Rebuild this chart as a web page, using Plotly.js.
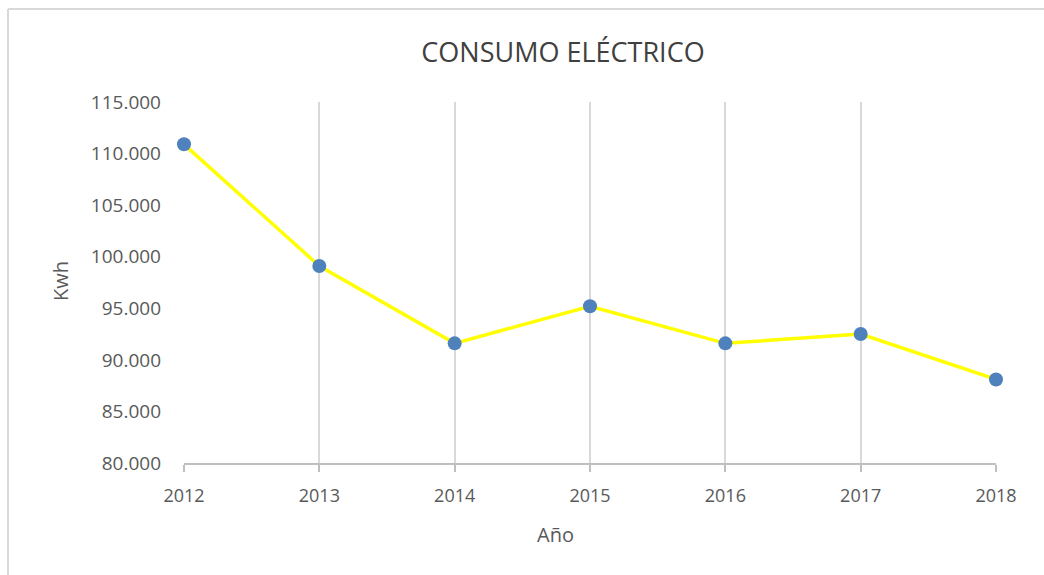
<!DOCTYPE html>
<html>
<head>
<meta charset="utf-8">
<script src="https://cdn.plot.ly/plotly-3.0.1.min.js"></script>
<style>
html,body{margin:0;padding:0;background:#fff;}
#chart{width:1044px;height:575px;}
</style>
</head>
<body>
<div id="chart"></div>
<script>
const years = ['2012','2013','2014','2015','2016','2017','2018'];
const consumo = [110900, 99100, 91600, 95200, 91600, 92500, 88100];
const chartTitle = 'CONSUMO ELÉCTRICO';
const xTitle = 'Año';
const yTitle = 'Kwh';

const W = 1044, H = 575;
const m = {l: 184, r: 48, t: 102, b: 112};
const pw = W - m.l - m.r, ph = H - m.t - m.b;
const px = x => (x - m.l) / pw;
const py = y => (H - m.b - y) / ph;
const textColor = '#595959';
const font = 'Open Sans, Noto Sans, sans-serif';

const trace = {
  x: years.map((_, i) => i),
  y: consumo,
  type: 'scatter',
  mode: 'lines+markers',
  cliponaxis: false,
  line: {color: '#ffff00', width: 3.5},
  marker: {color: '#4f81bd', size: 14},
  hoverinfo: 'x+y'
};

const layout = {
  width: W, height: H,
  margin: m,
  paper_bgcolor: '#ffffff',
  plot_bgcolor: '#ffffff',
  separators: ',.',
  showlegend: false,
  font: {family: font, color: textColor, size: 18},
  title: {
    text: chartTitle,
    font: {family: font, size: 27, color: '#404040'},
    x: 563 / W, xanchor: 'center',
    y: 1 - 53 / H, yanchor: 'middle'
  },
  xaxis: {
    type: 'linear',
    range: [0, years.length - 1],
    tickmode: 'array',
    tickvals: years.map((_, i) => i),
    ticktext: years,
    showgrid: true,
    gridcolor: '#d9d9d9',
    gridwidth: 2,
    zeroline: false,
    showline: true,
    linecolor: '#bfbfbf',
    linewidth: 2,
    ticks: 'outside',
    ticklen: 7,
    tickwidth: 2,
    tickcolor: '#bfbfbf',
    ticklabelstandoff: 8,
    tickfont: {family: font, size: 18, color: textColor},
    fixedrange: true
  },
  yaxis: {
    range: [80000, 115000],
    dtick: 5000,
    tick0: 80000,
    tickformat: ',d',
    showgrid: false,
    zeroline: false,
    showline: false,
    ticks: '',
    ticklabelstandoff: 22,
    tickfont: {family: font, size: 19, color: textColor},
    fixedrange: true
  },
  annotations: [
    {text: xTitle, xref: 'paper', yref: 'paper', x: px(555), y: py(534),
     xanchor: 'center', yanchor: 'middle', showarrow: false,
     font: {family: font, size: 20, color: textColor}},
    {text: yTitle, xref: 'paper', yref: 'paper', x: px(60), y: py(281),
     xanchor: 'center', yanchor: 'middle', showarrow: false, textangle: -90,
     font: {family: font, size: 20, color: textColor}}
  ],
  shapes: [
    {type: 'line', xref: 'paper', yref: 'paper', x0: px(8), x1: px(8), y0: py(9), y1: py(H + 5),
     line: {color: '#d9d9d9', width: 2}},
    {type: 'line', xref: 'paper', yref: 'paper', x0: px(8), x1: px(W + 5), y0: py(9), y1: py(9),
     line: {color: '#d9d9d9', width: 2}}
  ]
};

Plotly.newPlot('chart', [trace], layout, {displayModeBar: false, staticPlot: true});
</script>
</body>
</html>
